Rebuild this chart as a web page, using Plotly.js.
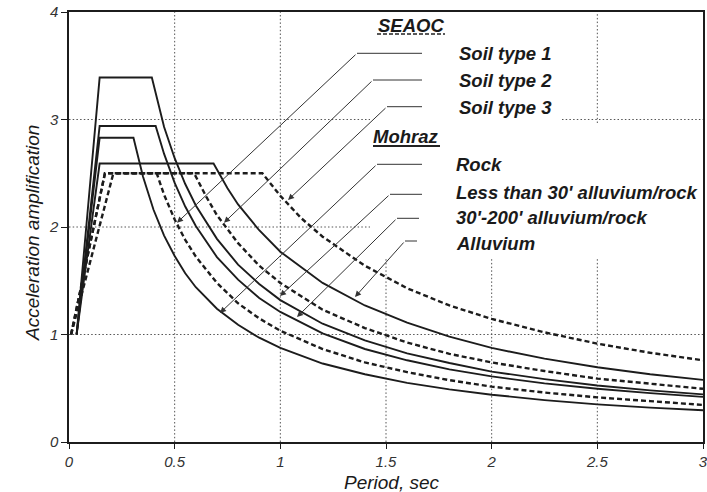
<!DOCTYPE html>
<html><head><meta charset="utf-8">
<script src="https://cdn.plot.ly/plotly-3.0.1.min.js"></script>
<style>html,body{margin:0;padding:0;background:#fff}</style>
</head><body><div id="chart" style="width:707px;height:492px"></div>
<script>
// ---------------- data ----------------
// Mohraz spectra (solid)
const T_rock = [0.036, 0.145, 0.305, 0.35, 0.4, 0.45, 0.5, 0.55, 0.6, 0.7, 0.8, 0.9, 1.0, 1.2, 1.4, 1.6, 1.8, 2.0, 2.25, 2.5, 2.75, 3.0];
const A_rock = [1.0, 2.83, 2.83, 2.47, 2.16, 1.92, 1.73, 1.57, 1.44, 1.24, 1.09, 0.97, 0.875, 0.73, 0.63, 0.55, 0.49, 0.44, 0.39, 0.35, 0.32, 0.295];

const T_lt30 = [0.036, 0.145, 0.392, 0.45, 0.5, 0.55, 0.6, 0.7, 0.8, 0.9, 1.0, 1.2, 1.4, 1.6, 1.8, 2.0, 2.25, 2.5, 2.75, 3.0];
const A_lt30 = [1.0, 3.39, 3.39, 2.93, 2.64, 2.40, 2.20, 1.89, 1.65, 1.47, 1.32, 1.10, 0.945, 0.825, 0.735, 0.655, 0.585, 0.525, 0.48, 0.443];

const T_30200 = [0.036, 0.145, 0.41, 0.45, 0.5, 0.55, 0.6, 0.7, 0.8, 0.9, 1.0, 1.2, 1.4, 1.6, 1.8, 2.0, 2.25, 2.5, 2.75, 3.0];
const A_30200 = [1.0, 2.94, 2.94, 2.68, 2.41, 2.19, 2.01, 1.72, 1.51, 1.34, 1.21, 1.01, 0.865, 0.76, 0.675, 0.61, 0.545, 0.495, 0.455, 0.42];

const T_alluv = [0.036, 0.145, 0.684, 0.75, 0.8, 0.9, 1.0, 1.2, 1.4, 1.6, 1.8, 2.0, 2.25, 2.5, 2.75, 3.0];
const A_alluv = [1.0, 2.59, 2.59, 2.36, 2.21, 1.97, 1.77, 1.48, 1.27, 1.11, 0.98, 0.875, 0.775, 0.695, 0.63, 0.578];

// SEAOC spectra (dashed)
const T_soil1 = [0.01, 0.17, 0.415, 0.45, 0.5, 0.55, 0.6, 0.7, 0.8, 0.9, 1.0, 1.2, 1.4, 1.6, 1.8, 2.0, 2.25, 2.5, 2.75, 3.0];
const A_soil1 = [1.0, 2.5, 2.5, 2.30, 2.07, 1.88, 1.725, 1.48, 1.29, 1.15, 1.035, 0.865, 0.74, 0.65, 0.575, 0.515, 0.46, 0.415, 0.38, 0.345];

const T_soil2 = [0.01, 0.17, 0.592, 0.65, 0.7, 0.8, 0.9, 1.0, 1.2, 1.4, 1.6, 1.8, 2.0, 2.25, 2.5, 2.75, 3.0];
const A_soil2 = [1.0, 2.5, 2.5, 2.28, 2.11, 1.85, 1.64, 1.48, 1.23, 1.06, 0.925, 0.82, 0.74, 0.66, 0.59, 0.54, 0.495];

const T_soil3 = [0.01, 0.21, 0.915, 1.0, 1.1, 1.2, 1.4, 1.6, 1.8, 2.0, 2.25, 2.5, 2.75, 3.0];
const A_soil3 = [1.0, 2.5, 2.5, 2.29, 2.08, 1.91, 1.64, 1.43, 1.27, 1.145, 1.02, 0.915, 0.83, 0.76];

// tick labels
const xTicks = [0, 0.5, 1, 1.5, 2, 2.5, 3];
const xTickText = ['0', '0.5', '1', '1.5', '2', '2.5', '3'];
const yTicks = [0, 1, 2, 3, 4];
const yTickText = ['0', '1', '2', '3', '4'];

// label texts
const seaocTitle = 'SEAOC';
const mohrazTitle = 'Mohraz';
const seaocLabels = ['Soil type 1', 'Soil type 2', 'Soil type 3'];
const mohrazLabels = ['Rock', "Less than 30' alluvium/rock", "30'-200' alluvium/rock", 'Alluvium'];
const xTitle = 'Period, sec';
const yTitle = 'Acceleration amplification';

// ---------------- layout helpers ----------------
const FONT = '"Liberation Sans", Arial, Helvetica, sans-serif';
const W = 707, H = 492, M = {l: 69, r: 4, t: 12, b: 50};
const pw = W - M.l - M.r, ph = H - M.t - M.b;
const XR = [0, 3], YR = [0, 4];
const px2x = px => XR[0] + (px - M.l) / pw * (XR[1] - XR[0]);
const py2y = py => YR[1] - (py - M.t) / ph * (YR[1] - YR[0]);

const INK = '#1c1c1c';
function curve(T, A, dashed) {
  return {
    x: T, y: A, type: 'scatter', mode: 'lines', hoverinfo: 'skip', showlegend: false,
    line: {color: INK, width: dashed ? 2.4 : 1.9, dash: dashed ? '5px,3px' : 'solid'}
  };
}
const data = [
  curve(T_soil1, A_soil1, true), curve(T_soil2, A_soil2, true), curve(T_soil3, A_soil3, true),
  curve(T_rock, A_rock, false), curve(T_lt30, A_lt30, false),
  curve(T_30200, A_30200, false), curve(T_alluv, A_alluv, false)
];

// dotted grid segments
const gridStyle = {color: '#555', width: 1, dash: '1.5px,2.2px'};
const shapes = [];
function gseg(x0, y0, x1, y1) {
  shapes.push({type: 'line', xref: 'x', yref: 'y', x0, y0, x1, y1, layer: 'below', line: gridStyle});
}
gseg(0.5, 0, 0.5, 4); gseg(1, 0, 1, 4);
gseg(1.5, 0, 1.5, py2y(258)); gseg(2, 0, 2, py2y(258));
gseg(2.5, 0, 2.5, py2y(258)); gseg(2.5, py2y(123), 2.5, 4);
gseg(0, 1, 3, 1);
gseg(0, 2, px2x(370), 2);
gseg(0, 3, px2x(370), 3); gseg(px2x(562), 3, 3, 3);

// leader lines: [labelY, endX, kneeX, tipX, tipY] in pixels
const leaders = [
  [53.3, 422, 357, 177, 222.7],
  [80, 422, 373, 224, 222.7],
  [106.7, 422, 387, 288, 200],
  [164.3, 422, 377, 220, 313],
  [194.3, 422, 390, 280, 296],
  [218.3, 419, 397, 297, 317],
  [241, 417, 405, 355, 297]
];
const annotations = [];
leaders.forEach(([ly, ex, kx, tx, ty]) => {
  shapes.push({type: 'line', xref: 'x', yref: 'y', x0: px2x(ex), y0: py2y(ly), x1: px2x(kx), y1: py2y(ly),
    line: {color: '#333', width: 1}});
  annotations.push({x: px2x(tx), y: py2y(ty), ax: px2x(kx), ay: py2y(ly), axref: 'x', ayref: 'y',
    xref: 'x', yref: 'y', text: '', showarrow: true, arrowhead: 2, arrowsize: 1.2, arrowwidth: 1,
    arrowcolor: '#333', standoff: 0, startstandoff: 0});
});

const labFont = {family: FONT, size: 18.5, color: '#1a1a1a', weight: 'bold', style: 'italic'};
const seaocY = [53, 80, 107];
seaocLabels.forEach((t, i) => annotations.push({x: px2x(457), y: py2y(seaocY[i]), xref: 'x', yref: 'y',
  text: t, showarrow: false, xanchor: 'left', yanchor: 'middle', font: labFont}));
const mohrazY = [164, 192, 217, 243];
mohrazLabels.forEach((t, i) => annotations.push({x: px2x(454), y: py2y(mohrazY[i]), xref: 'x', yref: 'y',
  text: t, showarrow: false, xanchor: 'left', yanchor: 'middle', font: labFont}));

annotations.push({x: px2x(411), y: py2y(25), xref: 'x', yref: 'y', text: seaocTitle, showarrow: false,
  xanchor: 'center', yanchor: 'middle', font: labFont});
annotations.push({x: px2x(406), y: py2y(136), xref: 'x', yref: 'y', text: mohrazTitle, showarrow: false,
  xanchor: 'center', yanchor: 'middle', font: labFont});
shapes.push({type: 'line', xref: 'x', yref: 'y', x0: px2x(377), x1: px2x(445), y0: py2y(34), y1: py2y(34),
  line: {color: '#222', width: 1.6, dash: '4px,2px'}});
shapes.push({type: 'line', xref: 'x', yref: 'y', x0: px2x(373), x1: px2x(440), y0: py2y(146), y1: py2y(146),
  line: {color: '#222', width: 2}});

// axis titles
const titleFont = {family: FONT, size: 19, color: '#1a1a1a', style: 'italic'};
annotations.push({xref: 'paper', yref: 'paper', x: (392 - M.l) / pw, y: -(482 - M.t - ph) / ph,
  text: xTitle, showarrow: false, xanchor: 'center', yanchor: 'middle', font: titleFont});
annotations.push({xref: 'paper', yref: 'paper', x: -(M.l - 32) / pw, y: (H - M.b - 233) / ph,
  text: yTitle, showarrow: false, xanchor: 'center', yanchor: 'middle', textangle: -90, font: titleFont});

const tickFont = {family: FONT, size: 15, color: '#333', style: 'italic'};
const layout = {
  width: W, height: H, margin: M, paper_bgcolor: '#fff', plot_bgcolor: '#fff',
  xaxis: {range: XR, tickvals: xTicks, ticktext: xTickText, showgrid: false, zeroline: false,
    showline: true, linecolor: INK, linewidth: 2, mirror: true, ticks: 'outside', ticklen: 5,
    tickcolor: INK, tickfont: tickFont, ticklabeloverflow: 'allow', fixedrange: true},
  yaxis: {range: YR, tickvals: yTicks, ticktext: yTickText, showgrid: false, zeroline: false,
    showline: true, linecolor: INK, linewidth: 1.6, mirror: true, ticks: 'outside', ticklen: 6,
    tickcolor: INK, tickfont: tickFont, fixedrange: true},
  shapes, annotations, showlegend: false
};
Plotly.newPlot('chart', data, layout, {staticPlot: true, displayModeBar: false});
</script></body></html>
